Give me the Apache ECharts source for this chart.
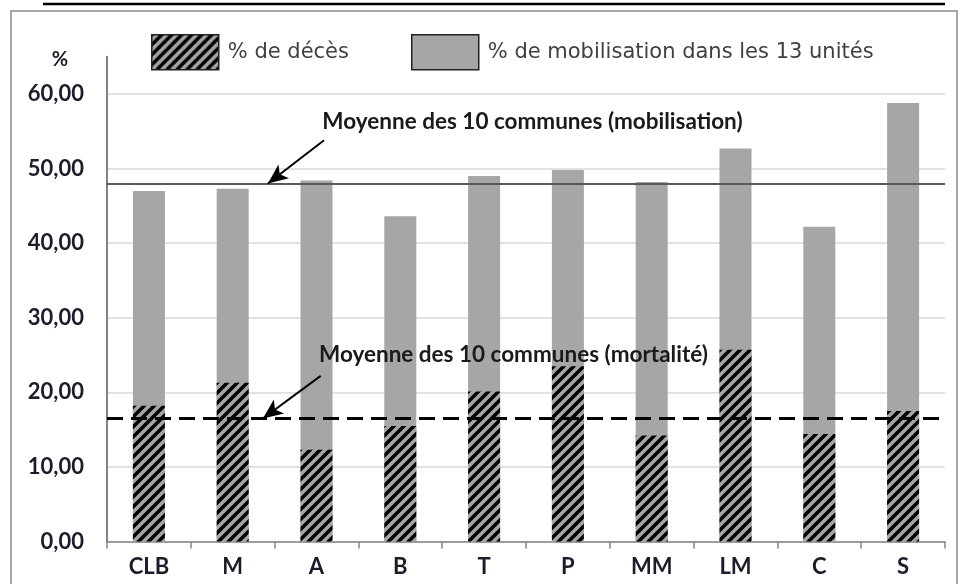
<!DOCTYPE html>
<html>
<head>
<meta charset="utf-8">
<script src="https://cdn.jsdelivr.net/npm/echarts@6/dist/echarts.min.js"></script>
<style>
  html, body { margin: 0; padding: 0; background: #fff; }
  #chart { width: 963px; height: 584px; }
</style>
</head>
<body>
<div id="chart"></div>
<script>
// communes
const categories = ["CLB", "M", "A", "B", "T", "P", "MM", "LM", "C", "S"];
// % de mobilisation dans les 13 unités
const mobilisation = [47.0, 47.3, 48.4, 43.6, 49.0, 49.8, 48.2, 52.7, 42.2, 58.8];
// % de décès
const deces = [18.2, 21.3, 12.3, 15.5, 20.1, 23.5, 14.2, 25.7, 14.4, 17.5];
const yTicks = [0, 10, 20, 30, 40, 50, 60];
const meanMobilisation = 48.0;
const meanDeces = 16.5;

const nameDeces = "% de décès";
const nameMob = "% de mobilisation dans les 13 unités";

// hatched fill: grey with black "/" stripes
const makeHatch = () => {
  const s = 10;
  const c = document.createElement("canvas");
  c.width = s;
  c.height = s;
  const g = c.getContext("2d");
  g.fillStyle = "#a6a6a6";
  g.fillRect(0, 0, s, s);
  g.strokeStyle = "#000";
  g.lineWidth = 3.5;
  g.beginPath();
  g.moveTo(0, s); g.lineTo(s, 0);
  g.moveTo(-s / 2, s / 2); g.lineTo(s / 2, -s / 2);
  g.moveTo(s / 2, s * 1.5); g.lineTo(s * 1.5, s / 2);
  g.stroke();
  return c;
};
const hatch = { image: makeHatch(), repeat: "repeat" };

const labelFont = { fontFamily: "Lato", fontWeight: "bold", fontSize: 22, color: "#1c1c2a" };
const legendText = { fontFamily: "DejaVu Sans", fontSize: 21, color: "#404040", padding: [0, 0, 0, 4] };
const axisGrey = { color: "#868686", width: 1.5, type: "solid" };

// y axis line and outward ticks, drawn on the hidden value x axis (left edge = -0.5)
const axisMarks = [
  [{ coord: [-0.5, 0], lineStyle: axisGrey }, { coord: [-0.5, 65] }],
  ...yTicks.map((t) => [{ coord: [-0.6, t], lineStyle: axisGrey }, { coord: [-0.5, t] }]),
];

const chart = echarts.init(document.getElementById("chart"));

const option = {
  animation: false,
  backgroundColor: "#fff",
  grid: {
    left: 107,
    right: 18,
    top: 56.7,
    bottom: 42.5,
    containLabel: false,
  },
  legend: [
    {
      left: 151,
      top: 34,
      padding: 0,
      itemWidth: 67,
      itemHeight: 35,
      icon: "rect",
      data: [{ name: nameDeces, itemStyle: { borderColor: "#222", borderWidth: 1.5 } }],
      textStyle: legendText,
    },
    {
      left: 411,
      top: 34,
      padding: 0,
      itemWidth: 67,
      itemHeight: 35,
      icon: "rect",
      data: [{ name: nameMob, itemStyle: { borderColor: "#222", borderWidth: 1.5 } }],
      textStyle: legendText,
    },
  ],
  xAxis: [
    {
      type: "category",
      data: categories,
      axisLine: { onZero: false, lineStyle: { color: "#868686", width: 1.5 } },
      axisTick: { show: true, length: 7, lineStyle: { color: "#868686", width: 1.5 } },
      axisLabel: { ...labelFont, margin: 14 },
      splitLine: { show: false },
    },
    {
      // same span as the categories, for placing the notes
      type: "value",
      min: -0.5,
      max: 9.5,
      show: false,
    },
  ],
  yAxis: {
    type: "value",
    min: 0,
    max: 65,
    interval: 10,
    name: "%",
    nameLocation: "end",
    nameGap: -3.3,
    nameTextStyle: { ...labelFont, fontSize: 20, align: "center", verticalAlign: "middle", padding: [0, 94, 0, 0] },
    axisLine: { show: true, onZero: false, lineStyle: { color: "#7a7a7a", width: 2 } },
    axisTick: { show: false },
    axisLabel: {
      ...labelFont,
      margin: 23,
      showMaxLabel: false,
      formatter: (v) => (v > 60 ? "" : v.toFixed(2).replace(".", ",")),
    },
    splitLine: { show: true, showMaxLine: false, lineStyle: { color: "#d9d9d9", width: 1.5 } },
  },
  series: [
    {
      name: nameMob,
      type: "bar",
      data: mobilisation,
      barWidth: 32,
      barGap: "-100%",
      itemStyle: { color: "#a6a6a6" },
      z: 2,
    },
    {
      name: nameDeces,
      type: "bar",
      data: deces,
      barWidth: 32,
      barGap: "-100%",
      itemStyle: { color: hatch },
      z: 3,
    },
    {
      // means and their notes
      type: "scatter",
      xAxisIndex: 1,
      data: [],
      z: 10,
      silent: true,
      markLine: {
        silent: true,
        symbol: ["none", "none"],
        label: { show: false },
        data: [
          ...axisMarks,
          { yAxis: meanMobilisation, lineStyle: { color: "#595959", width: 1.8, type: "solid" } },
          { yAxis: meanDeces, lineStyle: { color: "#000", width: 3, type: [16, 8] } },
          [
            { coord: [2.09, 53.8], symbol: "none", lineStyle: { color: "#000", width: 2, type: "solid" } },
            { coord: [1.42, meanMobilisation], symbol: "arrow", symbolSize: [13, 20] },
          ],
          [
            { coord: [2.05, 22.2], symbol: "none", lineStyle: { color: "#000", width: 2, type: "solid" } },
            { coord: [1.36, meanDeces], symbol: "arrow", symbolSize: [13, 20] },
          ],
        ],
      },
      markPoint: {
        silent: true,
        symbol: "circle",
        symbolSize: 0,
        label: { show: true, position: "right", distance: 0, ...labelFont, fontSize: 22.5, color: "#1a1a1a" },
        data: [
          { coord: [2.07, 56.3], value: "Moyenne des 10 communes (mobilisation)", label: { formatter: "{c}" } },
          { coord: [2.03, 25.1], value: "Moyenne des 10 communes (mortalité)", label: { formatter: "{c}" } },
        ],
      },
    },
  ],
  graphic: [
    {
      type: "rect",
      shape: { x: 11, y: 11, width: 946, height: 600 },
      style: { fill: "none", stroke: "#8c8c8c", lineWidth: 1.5 },
      silent: true,
      z: -1,
    },
    {
      type: "line",
      shape: { x1: 43, y1: 4, x2: 945, y2: 4 },
      style: { stroke: "#000", lineWidth: 2.5 },
      silent: true,
    },
  ],
};

chart.setOption(option);
</script>
</body>
</html>
